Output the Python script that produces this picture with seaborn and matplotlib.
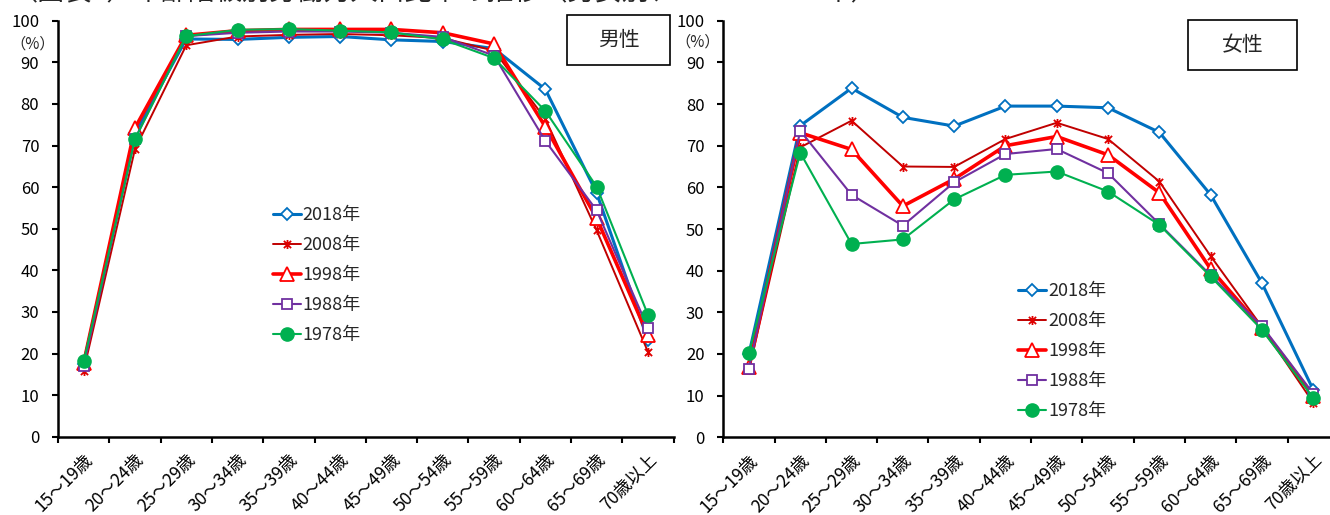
import numpy as np
import pandas as pd
import seaborn as sns
import matplotlib.pyplot as plt
from matplotlib.patches import Rectangle
from matplotlib.path import Path
from matplotlib.transforms import ScaledTranslation

sns.set_style('white')
plt.rcParams['font.family'] = ['Noto Sans CJK JP', 'DejaVu Sans']

ages = ['15～19歳', '20～24歳', '25～29歳', '30～34歳', '35～39歳', '40～44歳',
        '45～49歳', '50～54歳', '55～59歳', '60～64歳', '65～69歳', '70歳以上']
years = ['2018年', '2008年', '1998年', '1988年', '1978年']

# 男性
male_2018 = [17.5, 73.0, 95.6, 95.5, 96.0, 96.2, 95.4, 95.0, 93.3, 83.5, 58.6, 23.2]
male_2008 = [15.9, 69.1, 94.1, 96.2, 96.6, 96.8, 96.5, 95.8, 92.8, 76.4, 49.6, 20.4]
male_1998 = [17.7, 74.2, 96.5, 97.6, 97.9, 97.9, 97.9, 97.1, 94.4, 74.5, 52.5, 24.4]
male_1988 = [17.1, 71.6, 96.3, 97.1, 97.4, 97.4, 97.1, 96.1, 91.6, 71.1, 54.4, 26.1]
male_1978 = [18.1, 71.5, 96.3, 97.8, 98.0, 97.6, 97.2, 95.5, 91.0, 78.3, 60.1, 29.3]

# 女性
female_2018 = [20.0, 74.8, 83.8, 76.8, 74.7, 79.5, 79.5, 79.1, 73.2, 58.2, 37.0, 11.4]
female_2008 = [16.2, 69.6, 76.0, 65.0, 64.9, 71.6, 75.5, 71.6, 61.4, 43.5, 26.5, 8.3]
female_1998 = [16.8, 73.1, 69.1, 55.5, 62.0, 70.0, 72.2, 67.8, 58.7, 40.4, 26.2, 10.0]
female_1988 = [16.5, 73.6, 58.2, 50.8, 61.2, 68.0, 69.2, 63.4, 51.2, 38.9, 26.7, 10.5]
female_1978 = [20.2, 68.3, 46.4, 47.5, 57.1, 63.0, 63.8, 59.0, 51.0, 38.6, 25.8, 9.5]

male = [male_2018, male_2008, male_1998, male_1988, male_1978]
female = [female_2018, female_2008, female_1998, female_1988, female_1978]

# excel-like "star" marker: an X with a vertical bar
star = Path([(-1, -1), (1, 1), (-1, 1), (1, -1), (0, -1.25), (0, 1.25)],
            [Path.MOVETO, Path.LINETO] * 3)

styles = {
    '2018年': dict(color='#0070C0', lw=2.2, marker='D', ms=6.5, mfc='white', mec='#0070C0', mew=1.3),
    '2008年': dict(color='#C00000', lw=1.4, marker=star, ms=6.5, mec='#E00000', mew=1.3),
    '1998年': dict(color='#FF0000', lw=2.6, marker='^', ms=9.5, mfc='white', mec='#FF0000', mew=1.3),
    '1988年': dict(color='#7030A0', lw=1.5, marker='s', ms=6.5, mfc='white', mec='#7030A0', mew=1.3),
    '1978年': dict(color='#00B050', lw=1.5, marker='o', ms=9.5, mfc='#00B050', mec='#00B050', mew=1),
}

fig = plt.figure(figsize=(13.3, 5.15), dpi=100)
W, H = 1330, 515
ax_m = fig.add_axes([58 / W, (H - 436.7) / H, 615.6 / W, 416 / H])
ax_f = fig.add_axes([723.3 / W, (H - 437.3) / H, 615.6 / W, 416.6 / H])


def draw(ax, data, leg_xy):
    for year, vals in zip(years, data):
        sns.lineplot(x=ages, y=vals, ax=ax, sort=False, label=year, **styles[year])
    ax.set_xlim(-0.5, 11.5)
    ax.set_ylim(0, 100)
    ax.set_yticks(range(0, 101, 10))
    ax.set_xticks(np.arange(len(ages)))
    ax.set_xticklabels(ages, rotation=45, ha='right', va='top', rotation_mode='anchor', fontsize=12.5)
    off = ScaledTranslation(3 / 100, 0, fig.dpi_scale_trans)
    for lab in ax.get_xticklabels():
        lab.set_transform(lab.get_transform() + off)
    ax.set_xticks(np.arange(-0.5, len(ages), 1), minor=True)
    ax.tick_params(axis='x', which='major', length=0, pad=10)
    ax.tick_params(axis='x', which='minor', length=4.5, width=1.5, direction='out', color='black', bottom=True)
    ax.tick_params(axis='y', length=4.5, width=1.5, direction='out', color='black', pad=9,
                   labelsize=12, left=True)
    ax.tick_params(colors='black', which='both')
    ax.set_xlabel('')
    ax.set_ylabel('')
    sns.despine(ax=ax)
    for s in ['left', 'bottom']:
        ax.spines[s].set_linewidth(1.8)
        ax.spines[s].set_color('black')
    ax.legend(loc='upper left', bbox_to_anchor=leg_xy, frameon=False, fontsize=13,
              handlelength=1.55, handletextpad=0.1, labelspacing=0.66,
              borderpad=0, borderaxespad=0)


draw(ax_m, male, (0.349, 0.554))
draw(ax_f, female, (0.479, 0.372))

# 男性 / 女性 boxes
for (x0, y0, w, h), txt in [((567, 15, 103, 50), '男性'), ((1188, 20, 109, 50), '女性')]:
    fig.add_artist(Rectangle((x0 / W, 1 - (y0 + h) / H), w / W, h / H, transform=fig.transFigure,
                             fill=False, ec='black', lw=1.2))
    fig.text((x0 + w / 2) / W, 1 - (y0 + h / 2) / H, txt, ha='center', va='center', fontsize=15)

fig.text(33 / W, 1 - 44 / H, '（%）', ha='center', va='center', fontsize=11)
fig.text(698 / W, 1 - 42 / H, '（%）', ha='center', va='center', fontsize=11)

fig.text(10 / W, 1 + 8 / H, '（図表1）年齢階級別労働力人口比率の推移（男女別、1978～2018年）',
         ha='left', va='center', fontsize=19.5)

fig.savefig('out.png', dpi=100)
